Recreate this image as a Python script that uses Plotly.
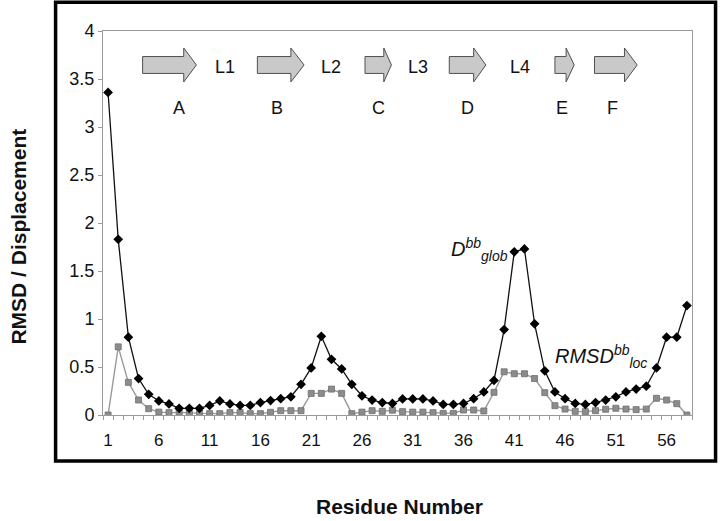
import plotly.graph_objects as go

residues = list(range(1, 59))
d_glob = [3.36, 1.83, 0.81, 0.38, 0.215, 0.146, 0.115, 0.07, 0.07, 0.07,
          0.10, 0.146, 0.115, 0.10, 0.10, 0.13, 0.15, 0.17, 0.19, 0.32,
          0.49, 0.82, 0.58, 0.48, 0.32, 0.20, 0.156, 0.13, 0.12, 0.167,
          0.167, 0.167, 0.146, 0.11, 0.11, 0.12, 0.17, 0.24, 0.36, 0.89,
          1.70, 1.73, 0.95, 0.46, 0.24, 0.17, 0.12, 0.11, 0.13, 0.156,
          0.19, 0.24, 0.27, 0.30, 0.49, 0.81, 0.81, 1.14]
rmsd_loc = [0.0, 0.71, 0.34, 0.156, 0.066, 0.03, 0.025, 0.025, 0.025, 0.017,
            0.014, 0.014, 0.025, 0.025, 0.014, 0.014, 0.028, 0.045, 0.045, 0.045,
            0.225, 0.225, 0.27, 0.225, 0.014, 0.03, 0.045, 0.038, 0.05, 0.035,
            0.03, 0.03, 0.025, 0.017, 0.017, 0.052, 0.052, 0.042, 0.236, 0.45,
            0.43, 0.43, 0.38, 0.233, 0.097, 0.062, 0.038, 0.035, 0.045, 0.06,
            0.07, 0.062, 0.056, 0.062, 0.174, 0.156, 0.118, 0.0]

x_tick_vals = list(range(1, 59, 5))
x_tick_text = [str(v) for v in x_tick_vals]
y_tick_vals = [0, 0.5, 1, 1.5, 2, 2.5, 3, 3.5, 4]
y_tick_text = ["0", "0.5", "1", "1.5", "2", "2.5", "3", "3.5", "4"]

# beta strands (start, end residue-scale positions, head length) and labels
strand_names = ["A", "B", "C", "D", "E", "F"]
strand_start = [4.4, 15.7, 26.3, 34.6, 45.0, 48.9]
strand_end = [9.7, 20.3, 28.9, 38.2, 46.9, 53.1]
strand_head = [1.25, 1.3, 0.75, 1.2, 0.8, 1.25]
strand_label_x = [8.0, 17.6, 27.6, 36.4, 45.7, 50.7]
loop_names = ["L1", "L2", "L3", "L4"]
loop_x = [12.5, 23.0, 31.5, 41.6]

arrow_y = 3.646
shaft_half = 0.088
head_half = 0.177

FONT = "Liberation Sans, Arial, sans-serif"

fig = go.Figure()

fig.add_trace(go.Scatter(
    x=residues, y=rmsd_loc, mode="lines+markers",
    line=dict(color="#9a9a9a", width=1.4),
    marker=dict(symbol="square", size=6, color="#8c8c8c",
                line=dict(color="#6e6e6e", width=0.8)),
    showlegend=False))
fig.add_trace(go.Scatter(
    x=residues, y=d_glob, mode="lines+markers",
    line=dict(color="#111111", width=1.3),
    marker=dict(symbol="diamond", size=7.5, color="#000000"),
    showlegend=False))

shapes = []
for s, e, h in zip(strand_start, strand_end, strand_head):
    hs = e - h
    path = (f"M {s},{arrow_y - shaft_half} L {hs},{arrow_y - shaft_half} "
            f"L {hs},{arrow_y - head_half} L {e},{arrow_y} "
            f"L {hs},{arrow_y + head_half} L {hs},{arrow_y + shaft_half} "
            f"L {s},{arrow_y + shaft_half} Z")
    shapes.append(dict(type="path", xref="x", yref="y", path=path,
                       fillcolor="#c9c9c9", line=dict(color="#505050", width=1)))

# outer frame
shapes.append(dict(type="rect", xref="paper", yref="paper",
                   x0=-0.0805, x1=1.040, y0=-0.12, y1=1.075,
                   line=dict(color="#000000", width=3.5), fillcolor="rgba(0,0,0,0)"))

annotations = []
for name, lx in zip(strand_names, strand_label_x):
    annotations.append(dict(x=lx, y=3.2, xref="x", yref="y", text=name,
                            showarrow=False, font=dict(size=18, color="#111111", family=FONT)))
for name, lx in zip(loop_names, loop_x):
    annotations.append(dict(x=lx, y=3.63, xref="x", yref="y", text=name,
                            showarrow=False, font=dict(size=18, color="#111111", family=FONT)))

annotations.append(dict(x=40.6, y=1.72, xref="x", yref="y", xanchor="right", yanchor="middle",
                        text="<i>D<sup>bb</sup><sub>glob</sub></i>", showarrow=False,
                        font=dict(size=20, color="#111111", family=FONT)))
annotations.append(dict(x=44.8, y=0.61, xref="x", yref="y", xanchor="left", yanchor="middle",
                        text="<i>RMSD<sup>bb</sup><sub>loc</sub></i>", showarrow=False,
                        font=dict(size=20, color="#111111", family=FONT)))

annotations.append(dict(x=-0.143, y=0.464, xref="paper", yref="paper",
                        xanchor="center", yanchor="middle",
                        text="<b>RMSD / Displacement</b>", textangle=-90, showarrow=False,
                        font=dict(size=21, color="#111111", family=FONT)))
annotations.append(dict(x=0.504, y=-0.237, xref="paper", yref="paper",
                        xanchor="center", yanchor="middle",
                        text="<b>Residue Number</b>", showarrow=False,
                        font=dict(size=21, color="#111111", family=FONT)))

fig.update_layout(
    width=720, height=521,
    margin=dict(l=102.5, r=27.5, t=31, b=106),
    paper_bgcolor="white", plot_bgcolor="white",
    shapes=shapes, annotations=annotations,
    font=dict(family=FONT, color="#111111", size=15),
    xaxis=dict(range=[0.5, 58.5], tickvals=x_tick_vals, ticktext=x_tick_text,
               showgrid=False, zeroline=False, showline=True, linecolor="#9a9a9a",
               linewidth=1, mirror=True, ticks="",
               minor=dict(tick0=0.5, dtick=1, ticks="outside", ticklen=4,
                          tickcolor="#9a9a9a", showgrid=False),
               tickfont=dict(size=17), ticklabelstandoff=10),
    yaxis=dict(range=[0, 4], tickvals=y_tick_vals, ticktext=y_tick_text,
               showgrid=False, zeroline=False, showline=True, linecolor="#9a9a9a",
               linewidth=1, mirror=True, ticks="outside", ticklen=4,
               tickcolor="#9a9a9a", tickfont=dict(size=18)),
)

fig.write_html("out.html", config={"displayModeBar": False},
               post_script="document.body.style.margin='0';document.body.style.overflow='hidden';")
